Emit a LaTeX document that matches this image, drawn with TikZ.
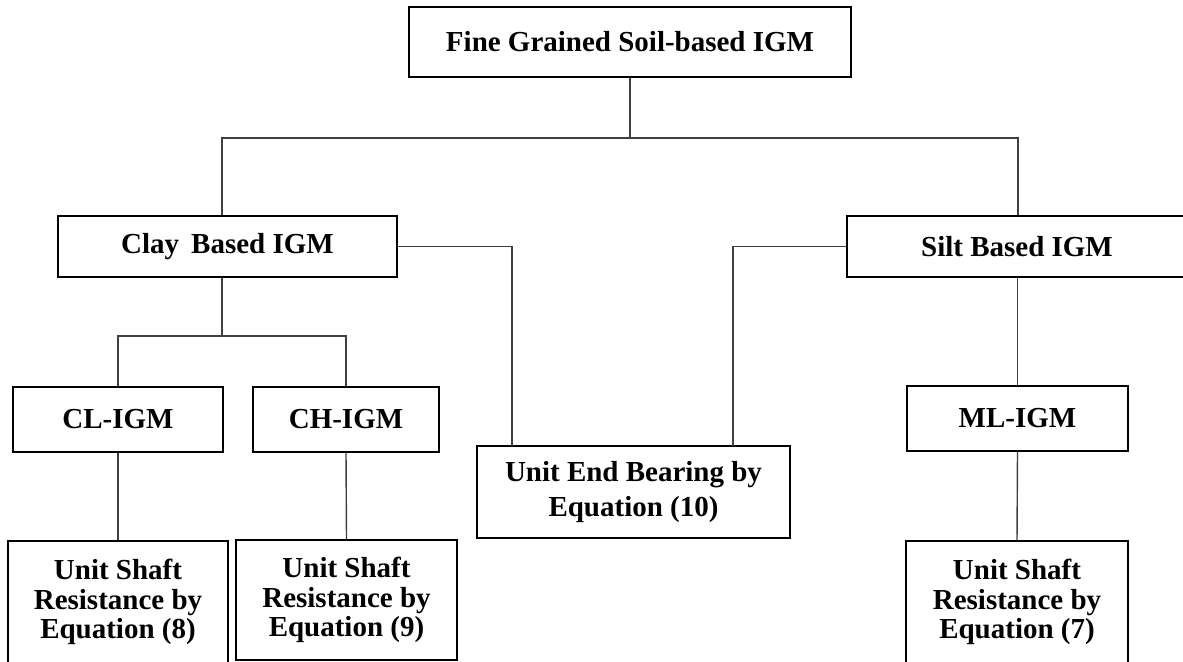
\documentclass[tikz,border=0pt]{standalone}
\usepackage{fontspec}
\setmainfont{Liberation Serif}
\begin{document}
\begin{tikzpicture}[x=0.02cm,y=-0.02cm]
\tikzstyle{igmbox} = [draw=black,line width=0.8pt,inner sep=0pt,align=center,
  font=\bfseries\fontsize{16.5}{17}\selectfont]
\tikzstyle{link} = [draw=black!75,line width=0.8pt]
\useasboundingbox (0,0) rectangle (1183,662);
%niveau 1
\node[igmbox,minimum width=8.84cm,minimum height=1.40cm] (top) at (630,42) {Fine Grained Soil-based IGM};
%niveau 2
\node[igmbox,minimum width=6.78cm,minimum height=1.22cm] (clay) at (227.5,246.5) {Clay\, Based IGM};
\node[igmbox,minimum width=6.80cm,minimum height=1.22cm] (silt) at (1017,246.5) {Silt Based IGM};
%niveau 3
\node[igmbox,minimum width=4.20cm,minimum height=1.30cm] (cl) at (118,419.5) {CL-IGM};
\node[igmbox,minimum width=3.72cm,minimum height=1.30cm] (ch) at (346,419.5) {CH-IGM};
\node[igmbox,minimum width=4.42cm,minimum height=1.30cm] (ml) at (1017.5,418.5) {ML-IGM};
\node[igmbox,minimum width=6.26cm,minimum height=1.84cm] (endb) at (633.5,492) {Unit End Bearing by\\[0.1cm]Equation (10)};
%niveau 4
\node[igmbox,minimum width=4.40cm,minimum height=2.44cm] (u8) at (118,602) {Unit Shaft\\Resistance by\\Equation (8)};
\node[igmbox,minimum width=4.42cm,minimum height=2.40cm] (u9) at (346.5,600) {Unit Shaft\\Resistance by\\Equation (9)};
\node[igmbox,minimum width=4.44cm,minimum height=2.44cm] (u7) at (1017,602) {Unit Shaft\\Resistance by\\Equation (7)};
%points de jonction
\coordinate (busL) at (222,138);
\coordinate (busR) at (1018,138);
\coordinate (forkC) at (222,336);
\coordinate (endL) at (512,446);
\coordinate (endR) at (733,446);
%tracer les liaisons
\draw[link] (top.south) -- (top.south |- busL);
\draw[link] (clay.north -| busL) -- (busL) -- (busR) -- (silt.north -| busR);
\draw[link] (clay.south -| forkC) -- (forkC);
\draw[link] (cl.north) |- (forkC) -| (ch.north);
\draw[link] (clay.east) -| (endL);
\draw[link] (silt.west) -| (endR);
\draw[link] (silt.south -| ml.north) -- (ml.north);
\draw[link] (cl.south) -- (u8.north);
\draw[link] (ch.south) -- (u9.north);
\draw[link] (ml.south) -- (u7.north);
\end{tikzpicture}
\end{document}
